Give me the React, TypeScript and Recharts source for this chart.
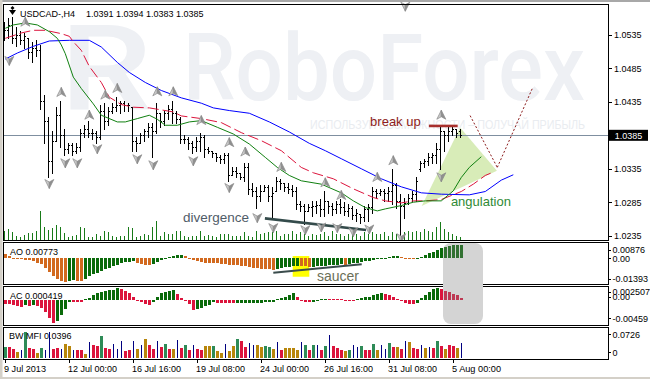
import React from "react";
import {
  ComposedChart,
  Bar,
  Line,
  Area,
  XAxis,
  YAxis,
  ReferenceLine,
  ReferenceDot,
  ReferenceArea,
} from "recharts";

const FONT = "'Liberation Sans', Arial, sans-serif";
const W = 650;
const PLOT_LEFT = 4;
const PLOT_RIGHT = 608;
const AXIS_W = W - PLOT_RIGHT;
const X_DOMAIN: [number, number] = [-0.325, 150.675];
const PRICE_DOMAIN: [number, number] = [1.02285, 1.05813];
const AO_DOMAIN: [number, number] = [-0.01393, 0.00876];
const AC_DOMAIN: [number, number] = [-0.00459, 0.002507];
const MFI_DOMAIN: [number, number] = [0, 0.0726];
const VOL_DOMAIN: [number, number] = [0, 23600];

// ---------- categories / ticks ----------
const dateTicks = [0, 16, 32, 48, 64, 80, 96, 112];
const dateLabels = ["9 Jul 2013", "12 Jul 00:00", "16 Jul 16:00", "19 Jul 08:00", "24 Jul 00:00", "26 Jul 16:00", "31 Jul 08:00", "5 Aug 00:00"];
const priceTicks = [1.0235, 1.0285, 1.0335, 1.0385, 1.0435, 1.0485, 1.0535];
const lastPrice = 1.0385;

// ---------- price bars (H4 USDCAD) ----------
const open = [
  1.0535, 1.0542, 1.0550, 1.0530, 1.0535, 1.0527, 1.0530, 1.0509, 1.0515, 1.0512,
  1.0437, 1.0407, 1.0347, 1.0377, 1.0415, 1.0385, 1.0365, 1.0370, 1.0362, 1.0368,
  1.0389, 1.0395, 1.0388, 1.0389, 1.0383, 1.0422, 1.0407, 1.0422, 1.0428, 1.0431,
  1.0433, 1.0430, 1.0427, 1.0377, 1.0374, 1.0385, 1.0392, 1.0398, 1.0392, 1.0418,
  1.0407, 1.0419, 1.0425, 1.0419, 1.0410, 1.0380, 1.0380, 1.0374, 1.0368, 1.0377,
  1.0383, 1.0365, 1.0362, 1.0358, 1.0353, 1.0350, 1.0355, 1.0325, 1.0332, 1.0328,
  1.0323, 1.0338, 1.0305, 1.0302, 1.0295, 1.0302, 1.0307, 1.0295, 1.0302, 1.0317,
  1.0314, 1.0308, 1.0305, 1.0302, 1.0283, 1.0280, 1.0272, 1.0278, 1.0280, 1.0281,
  1.0275, 1.0287, 1.0280, 1.0275, 1.0283, 1.0278, 1.0272, 1.0277, 1.0266, 1.0268,
  1.0263, 1.0275, 1.0278, 1.0302, 1.0299, 1.0302, 1.0299, 1.0302, 1.0310, 1.0287,
  1.0280, 1.0284, 1.0292, 1.0298, 1.0335, 1.0343, 1.0347, 1.0352, 1.0355, 1.0365,
  1.0392, 1.0385, 1.0392, 1.0395, 1.0391,
];
const high = [
  1.0554, 1.0560, 1.0562, 1.0547, 1.0541, 1.0538, 1.0530, 1.0524, 1.0527, 1.0520,
  1.0445, 1.0412, 1.0392, 1.0427, 1.0437, 1.0395, 1.0374, 1.0373, 1.0374, 1.0395,
  1.0401, 1.0407, 1.0395, 1.0392, 1.0430, 1.0433, 1.0427, 1.0433, 1.0443, 1.0437,
  1.0437, 1.0434, 1.0427, 1.0382, 1.0389, 1.0395, 1.0403, 1.0404, 1.0434, 1.0418,
  1.0422, 1.0430, 1.0437, 1.0422, 1.0412, 1.0385, 1.0383, 1.0377, 1.0382, 1.0389,
  1.0385, 1.0368, 1.0362, 1.0358, 1.0355, 1.0359, 1.0359, 1.0337, 1.0337, 1.0328,
  1.0343, 1.0344, 1.0314, 1.0307, 1.0310, 1.0310, 1.0310, 1.0307, 1.0322, 1.0320,
  1.0314, 1.0313, 1.0310, 1.0307, 1.0287, 1.0283, 1.0283, 1.0287, 1.0287, 1.0290,
  1.0302, 1.0287, 1.0284, 1.0287, 1.0290, 1.0286, 1.0283, 1.0280, 1.0275, 1.0268,
  1.0280, 1.0283, 1.0307, 1.0305, 1.0305, 1.0305, 1.0307, 1.0335, 1.0313, 1.0298,
  1.0292, 1.0298, 1.0302, 1.0322, 1.0347, 1.0350, 1.0359, 1.0359, 1.0373, 1.0400,
  1.0392, 1.0397, 1.0400, 1.0395, 1.0394,
];
const low = [
  1.0527, 1.0530, 1.0523, 1.0518, 1.0521, 1.0515, 1.0500, 1.0494, 1.0503, 1.0425,
  1.0373, 1.0322, 1.0328, 1.0377, 1.0367, 1.0355, 1.0358, 1.0355, 1.0358, 1.0362,
  1.0382, 1.0382, 1.0380, 1.0374, 1.0380, 1.0395, 1.0400, 1.0419, 1.0422, 1.0419,
  1.0422, 1.0422, 1.0362, 1.0362, 1.0373, 1.0377, 1.0382, 1.0352, 1.0389, 1.0397,
  1.0400, 1.0410, 1.0403, 1.0403, 1.0373, 1.0373, 1.0365, 1.0358, 1.0362, 1.0362,
  1.0352, 1.0358, 1.0352, 1.0347, 1.0344, 1.0343, 1.0317, 1.0325, 1.0322, 1.0320,
  1.0317, 1.0298, 1.0295, 1.0277, 1.0287, 1.0302, 1.0287, 1.0260, 1.0302, 1.0305,
  1.0302, 1.0299, 1.0295, 1.0275, 1.0272, 1.0253, 1.0272, 1.0265, 1.0269, 1.0265,
  1.0265, 1.0269, 1.0266, 1.0269, 1.0269, 1.0266, 1.0265, 1.0260, 1.0257, 1.0254,
  1.0257, 1.0257, 1.0269, 1.0292, 1.0296, 1.0287, 1.0287, 1.0283, 1.0277, 1.0230,
  1.0262, 1.0283, 1.0287, 1.0287, 1.0332, 1.0337, 1.0340, 1.0344, 1.0343, 1.0335,
  1.0362, 1.0377, 1.0385, 1.0382, 1.0383,
];
const close = [
  1.0542, 1.0550, 1.0530, 1.0535, 1.0527, 1.0533, 1.0509, 1.0515, 1.0512, 1.0437,
  1.0407, 1.0347, 1.0377, 1.0415, 1.0385, 1.0365, 1.0370, 1.0362, 1.0368, 1.0389,
  1.0395, 1.0388, 1.0389, 1.0383, 1.0422, 1.0407, 1.0422, 1.0428, 1.0431, 1.0433,
  1.0430, 1.0431, 1.0377, 1.0374, 1.0385, 1.0392, 1.0398, 1.0392, 1.0419, 1.0407,
  1.0419, 1.0425, 1.0419, 1.0410, 1.0380, 1.0380, 1.0374, 1.0368, 1.0377, 1.0383,
  1.0365, 1.0362, 1.0359, 1.0353, 1.0350, 1.0355, 1.0325, 1.0332, 1.0329, 1.0323,
  1.0338, 1.0305, 1.0302, 1.0295, 1.0302, 1.0307, 1.0295, 1.0299, 1.0317, 1.0314,
  1.0308, 1.0305, 1.0302, 1.0283, 1.0280, 1.0272, 1.0278, 1.0280, 1.0281, 1.0275,
  1.0287, 1.0280, 1.0275, 1.0283, 1.0278, 1.0272, 1.0277, 1.0266, 1.0269, 1.0263,
  1.0275, 1.0278, 1.0302, 1.0299, 1.0302, 1.0299, 1.0302, 1.0310, 1.0287, 1.0280,
  1.0284, 1.0292, 1.0298, 1.0317, 1.0343, 1.0347, 1.0352, 1.0355, 1.0365, 1.0392,
  1.0385, 1.0392, 1.0395, 1.0389, 1.0385,
];
const volume = [
  930, 1100, 800, 400, 300, 470, 700, 700, 930, 2900,
  1300, 1000, 1200, 1500, 1270, 670, 270, 430, 530, 1330,
  1200, 270, 270, 600, 430, 930, 770, 430, 330, 430,
  430, 1330, 1200, 270, 430, 600, 530, 1330, 1930, 430,
  770, 600, 600, 930, 930, 430, 330, 430, 430, 930,
  430, 530, 430, 270, 600, 600, 600, 430, 430, 430,
  770, 430, 330, 930, 600, 670, 770, 770, 930, 430,
  600, 600, 930, 600, 770, 600, 430, 600, 500, 600,
  770, 430, 930, 600, 600, 430, 600, 770, 600, 430,
  770, 600, 770, 600, 600, 770, 430, 770, 600, 1270,
  770, 930, 770, 930, 770, 1100, 930, 770, 1270, 1770,
  1100, 770, 600, 430, 270,
];

// ---------- Alligator lines [bar index, price] ----------
const jaw = [
  [0, 1.0499], [3, 1.0508], [7, 1.0518], [11, 1.0526], [16, 1.0527], [21, 1.0527], [24, 1.0517],
  [28, 1.0494], [31, 1.0479], [35, 1.0464], [39, 1.0452], [44, 1.0441], [49, 1.0433], [52, 1.0426],
  [56, 1.0422], [61, 1.0418], [66, 1.0405], [71, 1.0390], [76, 1.0373], [80, 1.0362], [84, 1.0350],
  [89, 1.0335], [94, 1.0320], [99, 1.0308], [104, 1.0299], [109, 1.0297], [116, 1.0296],
  [120, 1.0301], [124, 1.0318], [127, 1.0326],
];
const teeth = [
  [0, 1.0530], [4, 1.0538], [7, 1.0542], [10, 1.0542], [14, 1.0537], [16, 1.0533], [17, 1.0525],
  [19, 1.0512], [21, 1.0488], [24, 1.0464], [26, 1.0442], [29, 1.0431], [32, 1.0427], [36, 1.0426],
  [39, 1.0423], [42, 1.0420], [44, 1.0414], [49, 1.0410], [54, 1.0404], [59, 1.0389], [64, 1.0377],
  [69, 1.0362], [74, 1.0337], [77, 1.0329], [82, 1.0320], [87, 1.0305], [92, 1.0292], [95, 1.0287],
  [99, 1.0284], [102, 1.0287], [105, 1.0287], [109, 1.0289], [114, 1.0301], [117, 1.0312],
  [120, 1.0325], [122, 1.0330],
];
const lips = [
  [0, 1.0545], [2, 1.0550], [5, 1.0553], [8, 1.0550], [11, 1.0540], [13, 1.0530], [14, 1.0520],
  [15, 1.0507], [17, 1.0472], [19, 1.0455], [22, 1.0432], [24, 1.0415], [28, 1.0405], [30, 1.0405],
  [33, 1.0410], [36, 1.0415], [38, 1.0409], [40, 1.0400], [43, 1.0400], [46, 1.0405], [49, 1.0407],
  [53, 1.0397], [57, 1.0387], [61, 1.0372], [65, 1.0352], [68, 1.0337], [71, 1.0325], [74, 1.0317],
  [79, 1.0312], [84, 1.0299], [87, 1.0287], [90, 1.0277], [93, 1.0272], [95, 1.0275], [99, 1.0280],
  [102, 1.0285], [105, 1.0287], [109, 1.0287], [111, 1.0297], [112, 1.0302], [114, 1.0322],
  [116, 1.0337], [119, 1.0353],
];

// ---------- fractals [bar index, marker price] ----------
const fractalsUp = [
  [5, 1.0554], [14, 1.0449], [21, 1.0415], [25, 1.0445], [28, 1.0455], [38, 1.0450], [42, 1.0450],
  [49, 1.0407], [56, 1.0374], [60, 1.0360], [69, 1.0337], [80, 1.0314], [84, 1.0295], [93, 1.0322],
  [97, 1.0347], [109, 1.0415],
];
const fractalsDown = [
  [1, 1.0497], [11, 1.0313], [15, 1.0344], [18, 1.0344], [23, 1.0365], [33, 1.0350], [37, 1.0341],
  [47, 1.0347], [56, 1.0307], [63, 1.0262], [67, 1.0247], [75, 1.0244], [79, 1.0248], [83, 1.0247],
  [87, 1.0241], [91, 1.0245], [99, 1.0232], [109, 1.0323], [100, 1.0578],
];

// ---------- Awesome Oscillator ----------
const ao = [
  0.00227, 0.0013, 0.0004, -0.00017, -0.0004, -0.00096, -0.00113, -0.0017, -0.00244, -0.0034,
  -0.00527, -0.00777, -0.01004, -0.01191, -0.01288, -0.01344, -0.01305, -0.01231, -0.01265, -0.01288,
  -0.01151, -0.01004, -0.00908, -0.00811, -0.0072, -0.00624, -0.00527, -0.00437, -0.00357, -0.00284,
  -0.0021, -0.00187, -0.0017, -0.00244, -0.0034, -0.0038, -0.00391, -0.0034, -0.00187, -0.00096,
  -0.00017, 0.00057, 0.0013, 0.0017, 0.00187, 0.0013, 0.0004, -0.00096, -0.0017, -0.0021,
  -0.00244, -0.00255, -0.00272, -0.00284, -0.00301, -0.00323, -0.00357, -0.0038, -0.00397, -0.00414,
  -0.00437, -0.00471, -0.00527, -0.00567, -0.00584, -0.00607, -0.00624, -0.00664, -0.00584, -0.0055,
  -0.0051, -0.00471, -0.00437, -0.00414, -0.00437, -0.00454, -0.00493, -0.00471, -0.00454, -0.00437,
  -0.00414, -0.00397, -0.0038, -0.00357, -0.0034, -0.00357, -0.00323, -0.00284, -0.00244, -0.0021,
  -0.0017, -0.0013, -0.00096, -0.00057, -0.00017, 0.0004, 0.00074, 0.00113, 0.0013, 0.00096,
  0.0004, -0.00011, -0.0004, -0.00017, 0.00074, 0.0017, 0.00284, 0.0038, 0.00471, 0.00567,
  0.00641, 0.00698, 0.00737, 0.00754, 0.00773,
];

// ---------- Accelerator Oscillator ----------
const ac = [
  -0.00069, -0.00075, -0.00093, -0.00112, -0.00118, -0.00093, -0.00106, -0.00088, -0.00099, -0.00149,
  -0.00224, -0.00336, -0.00417, -0.00387, -0.0028, -0.00155, -0.00024, -0.00028, -0.00032, -0.00034,
  0.00019, 0.0005, 0.00093, 0.00131, 0.00163, 0.00174, 0.00187, 0.00192, 0.00224, 0.00205,
  0.00174, 0.00131, 0.00069, -0.00013, -0.00032, -0.00075, -0.0008, -0.00032, 0.00069, 0.00131,
  0.00155, 0.00174, 0.00187, 0.00112, 0.0005, -0.00013, -0.00075, -0.00174, -0.00163, -0.00136,
  -0.00106, -0.00088, -0.00037, -0.00043, -0.00047, -0.0005, -0.00054, -0.00056, -0.00052, -0.00049,
  -0.00047, -0.00045, -0.00043, -0.00041, -0.00039, -0.00037, -0.00035, -0.00034, 0.00019, 0.00037,
  0.00065, 0.00103, 0.00144, 0.00056, -0.00019, -0.00024, -0.00028, -0.00024, 0.00009, 0.00024,
  0.00032, 0.00028, 0.00024, 0.00022, 0.00019, 0.00015, 0.00011, 0.00007, 0.00019, 0.00037,
  0.00056, 0.00069, 0.00093, 0.00118, 0.0014, 0.00121, 0.00093, 0.00065, 0.00028, -0.00019,
  -0.0005, -0.00069, -0.00075, -0.00047, 0.00037, 0.00103, 0.00163, 0.00205, 0.00224, 0.00219,
  0.00177, 0.00149, 0.00121, 0.00093, 0.000419,
];

// ---------- Market Facilitation Index ----------
const mfi = [
  0.0296, 0.0296, 0.025, 0.0161, 0.0207, 0.0699, 0.0269, 0.025, 0.0143, 0.0269,
  0.0207, 0.0699, 0.025, 0.0269, 0.025, 0.0377, 0.0323, 0.0207, 0.0207, 0.0207,
  0.0116, 0.043, 0.0342, 0.0323, 0.0592, 0.0269, 0.025, 0.0377, 0.025, 0.0449,
  0.0188, 0.0207, 0.0449, 0.025, 0.0342, 0.0503, 0.0342, 0.025, 0.0449, 0.0296,
  0.0377, 0.025, 0.025, 0.0476, 0.0269, 0.0342, 0.0207, 0.0342, 0.025, 0.0207,
  0.0315, 0.0315, 0.0323, 0.018, 0.0143, 0.0377, 0.018, 0.0315, 0.0519, 0.0449,
  0.0296, 0.0412, 0.0342, 0.0342, 0.0296, 0.0315, 0.0296, 0.025, 0.043, 0.0207,
  0.0269, 0.0269, 0.0269, 0.0207, 0.043, 0.0342, 0.0207, 0.0358, 0.035, 0.0207,
  0.0315, 0.0611, 0.0315, 0.0269, 0.0207, 0.018, 0.0223, 0.0342, 0.0296, 0.0315,
  0.0223, 0.0207, 0.0369, 0.0223, 0.0342, 0.025, 0.0404, 0.0296, 0.0296, 0.025,
  0.0449, 0.043, 0.0269, 0.025, 0.0342, 0.0269, 0.0296, 0.0269, 0.0449, 0.0315,
  0.025, 0.0358, 0.0315, 0.0269, 0.0396,
];
// g = green (MFI up, vol up), f = fade (both down), b = fake (MFI up, vol down), s = squat (MFI down, vol up)
const mfiType = (
  "gssfbgssfg" + "bbssbffbss" + "fbssgssbbb" + "ssbfbfssbs" + "gsfbsgsbss" + "ffgffbffgs" +
  "sbbffggfbs" + "ffffbgsgbs" + "gbsssfgbbg" + "ssgfbbgsfs" + "bfssbfbsgs" + "fssfb"
).split("");

// ---------- annotations ----------
const breakUpLevel = { from: 105.9, to: 113.1, price: 1.0399 };
const divergenceLine = [ { x: 64.9, y: 1.02608 }, { x: 90.2, y: 1.02435 } ];
const forecastPath = [ { x: 116.2, y: 1.04145 }, { x: 123.0, y: 1.0337 }, { x: 131.9, y: 1.0457 } ];
const angulationZone = [
  { i: 104.1, band: [1.02795, 1.02795] },
  { i: 113.7, band: [1.03063, 1.03965] },
  { i: 122.9, band: [1.0332, 1.0332] },
];
const saucerLine = [ { x: 67, y: -0.00811 }, { x: 89.1, y: -0.00335 } ];
const saucerZone = { x1: 71.85, x2: 76.0, y1: -0.01038, y2: 0.00136 };
const notes = [
  { text: "break up", i: 91.2, p: 1.03985, color: "#8e1c20", size: 13 },
  { text: "divergence", i: 44.4, p: 1.02555, color: "#4f5c68", size: 13.5 },
  { text: "angulation", i: 111.4, p: 1.02787, color: "#2f8a35", size: 13 },
];
const saucerNote = { text: "saucer", i: 77.9, v: -0.0128 };

// ---------- colours ----------
const C_GREEN = "#0a6a0a";
const C_ORANGE = "#d2691e";
const C_RED = "#dc143c";
const MFI_COLORS: Record<string, string> = { g: "#2e8b57", f: "#b8860b", s: "#dc143c", b: "#000080" };

// ---------- tables ----------
const bars = close.map((c, i) => ({
  i, open: open[i], high: high[i], low: low[i], close: c, range: [low[i], high[i]], vol: volume[i],
}));
const maRows: any[] = [];
for (let i = 0; i <= 127; i++) maRows.push({ i });
jaw.forEach(([i, v]) => (maRows[i].jaw = v));
teeth.forEach(([i, v]) => (maRows[i].teeth = v));
lips.forEach(([i, v]) => (maRows[i].lips = v));
const aoRows = ao.map((v, i) => ({ i, v, color: i > 0 && v > ao[i - 1] ? C_GREEN : C_ORANGE }));
const acRows = ac.map((v, i) => ({ i, v, color: i > 0 && v > ac[i - 1] ? C_GREEN : C_RED }));
const mfiRows = mfi.map((v, i) => ({ i, v, color: MFI_COLORS[mfiType[i]], thin: mfiType[i] === "b" }));

// ---------- shapes ----------
const OhlcShape = (props: any) => {
  const { x, y, width, height, payload } = props;
  if (x == null || y == null || !payload) return null;
  const c = Math.floor(x + width / 2);
  const top = Math.min(y, y + height);
  const bot = Math.max(y, y + height);
  const span = payload.high - payload.low;
  const py = (p: number) => (span > 0 ? top + ((payload.high - p) / span) * (bot - top) : top);
  const yo = Math.round(py(payload.open)) + 0.5;
  const yc = Math.round(py(payload.close)) + 0.5;
  return (
    <g stroke="#000" strokeWidth={1} shapeRendering="crispEdges">
      <line x1={c + 0.5} x2={c + 0.5} y1={Math.round(top)} y2={Math.round(bot) + 1} />
      <line x1={c - 1} x2={c} y1={yo} y2={yo} />
      <line x1={c + 1} x2={c + 2} y1={yc} y2={yc} />
    </g>
  );
};
const VolShape = (props: any) => {
  const { x, y, width, height } = props;
  if (x == null || y == null) return null;
  const c = Math.floor(x + width / 2);
  const top = Math.min(y, y + height);
  const h = Math.abs(height);
  return <rect x={c} y={top} width={1} height={h} fill="#187a18" shapeRendering="crispEdges" />;
};
const HistShape = (props: any) => {
  const { x, y, width, height, payload } = props;
  if (x == null || y == null || !payload) return null;
  const c = Math.floor(x + width / 2);
  const top = Math.min(y, y + height);
  const h = Math.max(Math.abs(height), 1);
  const thin = payload.thin;
  return (
    <rect x={thin ? c + 1 : c} y={top} width={thin ? 1 : 3} height={h} fill={payload.color} shapeRendering="crispEdges" />
  );
};
const FractalUp = (props: any) => {
  const { cx, cy } = props;
  if (cx == null) return null;
  return (
    <g>
      <path d={`M${cx},${cy - 5} L${cx - 4.5},${cy + 4} L${cx},${cy + 1.5} Z`} fill="#c9c9c9" stroke="#8a8a8a" strokeWidth={0.7} />
      <path d={`M${cx},${cy - 5} L${cx + 4.5},${cy + 4} L${cx},${cy + 1.5} Z`} fill="#8f8f8f" stroke="#8a8a8a" strokeWidth={0.7} />
    </g>
  );
};
const FractalDown = (props: any) => {
  const { cx, cy } = props;
  if (cx == null) return null;
  return (
    <g>
      <path d={`M${cx},${cy + 5} L${cx - 4.5},${cy - 4} L${cx},${cy - 1.5} Z`} fill="#c9c9c9" stroke="#8a8a8a" strokeWidth={0.7} />
      <path d={`M${cx},${cy + 5} L${cx + 4.5},${cy - 4} L${cx},${cy - 1.5} Z`} fill="#8f8f8f" stroke="#8a8a8a" strokeWidth={0.7} />
    </g>
  );
};
const noteShape = (text: string, color: string, size: number) => (props: any) => {
  const { cx, cy } = props;
  if (cx == null) return null;
  return (
    <text x={cx} y={cy} fill={color} fontSize={size} fontFamily={FONT}>
      {text}
    </text>
  );
};

// ---------- ticks ----------
const PriceTick = (props: any) => {
  const { y, payload } = props;
  const v = payload.value;
  const label = v.toFixed(4);
  if (Math.abs(v - lastPrice) < 1e-7) {
    return (
      <g>
        <rect x={PLOT_RIGHT + 1} y={y - 5.5} width={39} height={11} fill="#000" />
        <text x={PLOT_RIGHT + 20.5} y={y + 3.3} fill="#fff" fontSize={9} fontFamily={FONT} textAnchor="middle">{label}</text>
      </g>
    );
  }
  const ly = Math.round(y) + 0.5;
  return (
    <g>
      <line x1={PLOT_RIGHT + 1} x2={PLOT_RIGHT + 4} y1={ly} y2={ly} stroke="#000" shapeRendering="crispEdges" />
      <text x={PLOT_RIGHT + 6} y={y + 3.3} fill="#000" fontSize={9} fontFamily={FONT}>{label}</text>
    </g>
  );
};
const makeIndTick = (specs: { v: number; text: string; dy: number }[]) => (props: any) => {
  const { y, payload } = props;
  const s = specs.find((q) => Math.abs(q.v - payload.value) < 1e-9);
  if (!s) return null;
  const cy = y + s.dy;
  const ly = Math.round(cy) + 0.5;
  return (
    <g>
      <line x1={PLOT_RIGHT + 1} x2={PLOT_RIGHT + 3} y1={ly} y2={ly} stroke="#000" shapeRendering="crispEdges" />
      <text x={PLOT_RIGHT + 4.5} y={cy + 3.3} fill="#000" fontSize={9} fontFamily={FONT}>{s.text}</text>
    </g>
  );
};
const aoTickSpecs = [ { v: 0.00876, text: "0.00876", dy: 7 }, { v: 0, text: "0.00", dy: 0 }, { v: -0.01393, text: "-0.01393", dy: -4 } ];
const acTickSpecs = [ { v: 0.002507, text: "0.002507", dy: 4.7 }, { v: 0, text: "0.00", dy: -3.7 }, { v: -0.00459, text: "-0.00459", dy: -6.7 } ];
const mfiTickSpecs = [ { v: 0.0726, text: "0.0726", dy: 3.3 }, { v: 0, text: "0", dy: -5.7 } ];
const MFI_PLOT_H = 27;
const DateTick = (props: any) => {
  const { x, payload } = props;
  const k = dateTicks.indexOf(payload.value);
  if (k < 0) return null;
  const label = dateLabels[k];
  const px = Math.floor(x) + 0.5;
  return (
    <g>
      <line x1={px} x2={px} y1={MFI_PLOT_H + 1} y2={MFI_PLOT_H + 5} stroke="#000" shapeRendering="crispEdges" />
      <text x={x - 1.3} y={MFI_PLOT_H + 13.5} fill="#000" fontSize={8.5} fontFamily={FONT}
        textLength={label.length > 10 ? 49 : 42} lengthAdjust="spacingAndGlyphs">{label}</text>
    </g>
  );
};

// ---------- layout helpers ----------
const xHidden = <XAxis type="number" dataKey="i" domain={X_DOMAIN} allowDataOverflow hide />;

function Layer(props: any) {
  const { top, height, data, right = AXIS_W, mTop = 0, mBottom = 0, children } = props;
  return (
    <div style={{ position: "absolute", left: 0, top }}>
      <ComposedChart width={W} height={height} data={data} margin={{ top: mTop, right, bottom: mBottom, left: PLOT_LEFT }}>
        {children}
      </ComposedChart>
    </div>
  );
}

export default function App() {
  return (
    <div style={{ position: "absolute", left: 0, top: 0, width: 650, height: 379, background: "#fff", overflow: "hidden" }}>
      {/* background: window chrome and watermark */}
      <svg width={650} height={379} style={{ position: "absolute", left: 0, top: 0 }}>
        <rect x={0} y={0} width={650} height={2} fill="#a8a8a8" />
        <rect x={0} y={0} width={2.5} height={379} fill="#d4d0c8" />
        <rect x={0} y={377} width={650} height={2} fill="#d4d0c8" />
        <text x={60} y={110} fontSize={118} fill="#eef0f4" fontFamily="Roboto, 'Liberation Sans', sans-serif" fontWeight={500}
          textLength={92} lengthAdjust="spacingAndGlyphs">R</text>
        <text x={183} y={100} fontSize={92} fill="#eef0f4" fontFamily="Roboto, 'Liberation Sans', sans-serif" fontWeight={500}
          textLength={402} lengthAdjust="spacingAndGlyphs">RoboForex</text>
        <text x={310} y={129} fontSize={12} fill="#e9ecf0" fontFamily={FONT} textLength={275} lengthAdjust="spacingAndGlyphs">
          ИСПОЛЬЗУЙ ВОЗМОЖНОСТИ – ПОЛУЧАЙ ПРИБЫЛЬ
        </text>
      </svg>

      {/* ===== main window ===== */}
      <Layer top={0} height={241} data={angulationZone} mTop={4} mBottom={1}>
        {xHidden}
        <YAxis domain={PRICE_DOMAIN} allowDataOverflow hide />
        <Area dataKey="band" type="linear" stroke="none" fill="#d8ecb8" fillOpacity={1} isAnimationActive={false} />
      </Layer>
      <Layer top={0} height={241} data={bars} mTop={4} mBottom={1}>
        {xHidden}
        <YAxis domain={PRICE_DOMAIN} allowDataOverflow hide />
        <YAxis yAxisId="vol" domain={VOL_DOMAIN} allowDataOverflow hide />
        <ReferenceLine y={lastPrice} stroke="#7f8fa0" strokeWidth={1} shapeRendering="crispEdges" />
        <Bar yAxisId="vol" dataKey="vol" barSize={1} shape={VolShape} isAnimationActive={false} />
      </Layer>
      <Layer top={0} height={241} data={bars} right={0} mTop={4} mBottom={1}>
        {xHidden}
        <YAxis orientation="right" width={AXIS_W} domain={PRICE_DOMAIN} allowDataOverflow ticks={priceTicks} interval={0}
          tick={PriceTick} tickLine={false} axisLine={false} tickSize={0} tickMargin={0} />
        <Bar dataKey="range" barSize={3} shape={OhlcShape} isAnimationActive={false} />
      </Layer>
      <Layer top={0} height={241} data={maRows} mTop={4} mBottom={1}>
        {xHidden}
        <YAxis domain={PRICE_DOMAIN} allowDataOverflow hide />
        <Line dataKey="jaw" type="linear" stroke="#0000ff" strokeWidth={1} dot={false} activeDot={false} connectNulls isAnimationActive={false} />
        <Line dataKey="teeth" type="linear" stroke="#dc143c" strokeWidth={1} strokeDasharray="11 4" dot={false} activeDot={false} connectNulls isAnimationActive={false} />
        <Line dataKey="lips" type="linear" stroke="#108010" strokeWidth={1} dot={false} activeDot={false} connectNulls isAnimationActive={false} />
        {fractalsUp.map(([i, p], k) => (
          <ReferenceDot key={"u" + k} x={i} y={p} r={5} shape={FractalUp} />
        ))}
        {fractalsDown.map(([i, p], k) => (
          <ReferenceDot key={"d" + k} x={i} y={p} r={5} shape={FractalDown} />
        ))}
        <ReferenceLine segment={[{ x: breakUpLevel.from, y: breakUpLevel.price }, { x: breakUpLevel.to, y: breakUpLevel.price }]}
          stroke="#a8302e" strokeWidth={2.6} />
        <ReferenceLine segment={divergenceLine} stroke="#344b4b" strokeWidth={2.6} />
        <ReferenceLine segment={[forecastPath[0], forecastPath[1]]} stroke="#8b1a1a" strokeWidth={1} strokeDasharray="2 2" />
        <ReferenceLine segment={[forecastPath[1], forecastPath[2]]} stroke="#8b1a1a" strokeWidth={1} strokeDasharray="2 2" />
        {notes.map((n, k) => (
          <ReferenceDot key={"n" + k} x={n.i} y={n.p} r={3} shape={noteShape(n.text, n.color, n.size)} />
        ))}
      </Layer>

      {/* ===== AO window ===== */}
      <Layer top={243} height={40} data={aoRows}>
        {xHidden}
        <YAxis domain={AO_DOMAIN} allowDataOverflow hide />
        <ReferenceArea x1={saucerZone.x1} x2={saucerZone.x2} y1={saucerZone.y1} y2={saucerZone.y2} fill="#ffff00" fillOpacity={1} stroke="none" />
      </Layer>
      <Layer top={243} height={40} data={aoRows} right={0}>
        {xHidden}
        <YAxis orientation="right" width={AXIS_W} domain={AO_DOMAIN} allowDataOverflow ticks={[0.00876, 0, -0.01393]} interval={0}
          tick={makeIndTick(aoTickSpecs)} tickLine={false} axisLine={false} tickSize={0} tickMargin={0} />
        <Bar dataKey="v" barSize={3} shape={HistShape} isAnimationActive={false} />
      </Layer>
      <Layer top={243} height={40} data={aoRows}>
        {xHidden}
        <YAxis domain={AO_DOMAIN} allowDataOverflow hide />
        <ReferenceLine segment={saucerLine} stroke="#3a4c4c" strokeWidth={2} />
        <ReferenceDot x={saucerNote.i} y={saucerNote.v} r={3} shape={noteShape(saucerNote.text, "#6b6f58", 14)} />
      </Layer>

      {/* ===== AC window ===== */}
      <Layer top={287} height={38} data={acRows} right={0}>
        {xHidden}
        <YAxis orientation="right" width={AXIS_W} domain={AC_DOMAIN} allowDataOverflow ticks={[0.002507, 0, -0.00459]} interval={0}
          tick={makeIndTick(acTickSpecs)} tickLine={false} axisLine={false} tickSize={0} tickMargin={0} />
        <Bar dataKey="v" barSize={3} shape={HistShape} isAnimationActive={false} />
      </Layer>

      {/* ===== BW MFI window ===== */}
      <Layer top={331} height={47} data={mfiRows} right={0}>
        <XAxis type="number" dataKey="i" domain={X_DOMAIN} allowDataOverflow ticks={dateTicks} interval={0} tick={DateTick}
          tickLine={false} axisLine={false} height={20} tickSize={0} tickMargin={0} />
        <YAxis orientation="right" width={AXIS_W} domain={MFI_DOMAIN} allowDataOverflow ticks={[0.0726, 0]} interval={0}
          tick={makeIndTick(mfiTickSpecs)} tickLine={false} axisLine={false} tickSize={0} tickMargin={0} />
        <Bar dataKey="v" barSize={3} shape={HistShape} isAnimationActive={false} />
      </Layer>

      {/* foreground: frames and captions */}
      <svg width={650} height={379} style={{ position: "absolute", left: 0, top: 0, pointerEvents: "none" }}>
        <g fill="none" stroke="#000" strokeWidth={1} shapeRendering="crispEdges">
          <rect x={3.5} y={4.5} width={605} height={236} />
          <rect x={3.5} y={242.5} width={605} height={42} />
          <rect x={3.5} y={286.5} width={605} height={39} />
          <rect x={3.5} y={327.5} width={605} height={32} />
        </g>
        <path d="M9,10 L16,10 L12.5,15 Z" fill="#000" />
        <path d="M12.5,6 L14.5,8 L12.5,10 L10.5,8 Z" fill="#000" />
        <text x={20} y={16.5} fontSize={9} fontFamily={FONT} fill="#000">USDCAD-,H4</text>
        <text x={86} y={16.5} fontSize={9} fontFamily={FONT} fill="#000">1.0391 1.0394 1.0383 1.0385</text>
        <text x={10} y={254.5} fontSize={9} fontFamily={FONT} fill="#000">AO 0.00773</text>
        <text x={10} y={298.5} fontSize={9} fontFamily={FONT} fill="#000">AC 0.000419</text>
        <text x={9} y={339} fontSize={9} fontFamily={FONT} fill="#000">BW MFI 0.0396</text>
      </svg>
      <div style={{ position: "absolute", left: 443, top: 243, width: 40, height: 81, borderRadius: 8, background: "rgba(128,128,128,0.34)" }} />
      <div style={{ position: "absolute", left: 443, top: 284, width: 40, height: 3, background: "#d4d4d4" }} />
    </div>
  );
}
